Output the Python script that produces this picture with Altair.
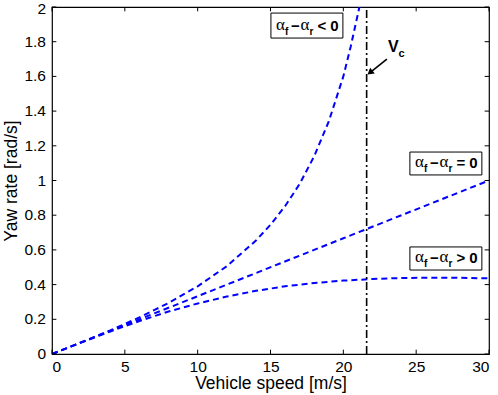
import altair as alt
import pandas as pd

# ---- data ----
speed_over = [0, 2, 4, 6, 8, 10, 12, 14, 15, 16, 17, 18, 19, 20, 20.5, 21, 21.1]
yaw_over = [0, 0.067, 0.136, 0.211, 0.294, 0.39, 0.506, 0.654, 0.745, 0.852, 0.98, 1.14, 1.34, 1.6, 1.77, 1.96, 2.0]

speed_neutral = [0, 10, 20, 30]
yaw_neutral = [0, 0.333, 0.667, 1.0]

speed_under = [0, 2, 4, 6, 8, 10, 12, 14, 16, 18, 20, 22, 24, 26, 28, 30]
yaw_under = [0, 0.066, 0.13, 0.19, 0.245, 0.291, 0.331, 0.364, 0.39, 0.409, 0.423, 0.432, 0.438, 0.44, 0.439, 0.436]

critical_speed = 21.6

x_ticks = [0, 5, 10, 15, 20, 25, 30]
y_ticks = [0, 0.2, 0.4, 0.6, 0.8, 1.0, 1.2, 1.4, 1.6, 1.8, 2.0]
y_tick_labels = ["0", "0.2", "0.4", "0.6", "0.8", "1", "1.2", "1.4", "1.6", "1.8", "2"]

box_relations = ["< 0", "= 0", "> 0"]

FONT = "Liberation Sans"

rows = []
for name, xs, ys in [("over", speed_over, yaw_over),
                     ("neutral", speed_neutral, yaw_neutral),
                     ("under", speed_under, yaw_under)]:
    for i, (a, b) in enumerate(zip(xs, ys)):
        rows.append({"series": name, "order": i, "speed": a, "yaw": b})
df = pd.DataFrame(rows)

xscale = alt.Scale(domain=[0, 30], nice=False, zero=False)
yscale = alt.Scale(domain=[0, 2], nice=False, zero=False)

xaxis = alt.Axis(values=x_ticks, tickSize=0, domain=False, grid=False, labelOverlap=False,
                 labelFontSize=15.5, labelFont=FONT, labelColor="black", labelPadding=5,
                 title="Vehicle speed [m/s]", titleFont=FONT, titleFontSize=17.5,
                 titleFontWeight="normal", titleColor="black", titlePadding=0)
yaxis = alt.Axis(values=y_ticks, tickSize=0, domain=False, grid=False, labels=False,
                 title="Yaw rate [rad/s]", titleFont=FONT, titleFontSize=17.5,
                 titleFontWeight="normal", titleColor="black", titlePadding=31)

base = alt.Chart(df)

lines = base.mark_line(color="#0000ff", strokeWidth=2, strokeDash=[6, 4], clip=True).encode(
    x=alt.X("speed:Q", scale=xscale, axis=xaxis),
    y=alt.Y("yaw:Q", scale=yscale, axis=yaxis),
    detail="series:N",
    order="order:Q",
)

# inward ticks on all four sides
xt = pd.DataFrame({"v": x_ticks})
yt = pd.DataFrame({"v": y_ticks, "lab": y_tick_labels})
tick_len_y = 0.025
tick_len_x = 0.3
bottom_ticks = alt.Chart(xt).mark_rule(color="black", strokeWidth=1).encode(
    x=alt.X("v:Q", scale=xscale, axis=xaxis), y=alt.datum(0, scale=yscale), y2=alt.datum(tick_len_y))
top_ticks = alt.Chart(xt).mark_rule(color="black", strokeWidth=1).encode(
    x=alt.X("v:Q", scale=xscale, axis=xaxis), y=alt.datum(2 - tick_len_y, scale=yscale), y2=alt.datum(2))
left_ticks = alt.Chart(yt).mark_rule(color="black", strokeWidth=1).encode(
    y=alt.Y("v:Q", scale=yscale, axis=yaxis), x=alt.datum(0, scale=xscale), x2=alt.datum(tick_len_x))
right_ticks = alt.Chart(yt).mark_rule(color="black", strokeWidth=1).encode(
    y=alt.Y("v:Q", scale=yscale, axis=yaxis), x=alt.datum(30 - tick_len_x, scale=xscale), x2=alt.datum(30))
y_labels = alt.Chart(yt[:-1]).mark_text(align="right", baseline="middle", dx=-6, fontSize=15.5,
                                        font=FONT, color="black").encode(
    y=alt.Y("v:Q", scale=yscale, axis=yaxis), x=alt.datum(0, scale=xscale), text="lab:N")
y_label_top = alt.Chart(yt[-1:]).mark_text(align="right", baseline="top", dx=-6, dy=-5,
                                           fontSize=15.5, font=FONT, color="black").encode(
    y=alt.Y("v:Q", scale=yscale, axis=yaxis), x=alt.datum(0, scale=xscale), text="lab:N")

vline = alt.Chart(pd.DataFrame({"v": [critical_speed]})).mark_rule(
    color="black", strokeWidth=1.6, strokeDash=[8, 3, 2, 3]).encode(
    x=alt.X("v:Q", scale=xscale, axis=xaxis), y=alt.datum(0, scale=yscale), y2=alt.datum(2))

# annotation boxes
boxes = pd.DataFrame({
    "x0": [15.03, 24.57, 24.57], "x1": [19.97, 29.51, 29.51],
    "y0": [1.821, 1.032, 0.484], "y1": [1.965, 1.164, 0.617],
    "rel": box_relations,
})
boxes["yc"] = (boxes["y0"] + boxes["y1"]) / 2
rects = alt.Chart(boxes).mark_rect(fill="white", stroke="black", strokeWidth=1).encode(
    x=alt.X("x0:Q", scale=xscale, axis=xaxis), x2="x1:Q",
    y=alt.Y("y0:Q", scale=yscale, axis=yaxis), y2="y1:Q")

def piece(text, dx, dy=0, size=14, weight="bold", font=FONT, field=None):
    m = alt.Chart(boxes).mark_text(align="left", baseline="middle", dx=dx, dy=dy,
                                   fontSize=size, fontWeight=weight, font=font, color="black",
                                   **({} if field else {"text": text}))
    enc = dict(x=alt.X("x0:Q", scale=xscale, axis=xaxis), y=alt.Y("yc:Q", scale=yscale, axis=yaxis))
    if field:
        enc["text"] = alt.Text(field + ":N")
    return m.encode(**enc)

labels = [
    piece("α", 5, -1, 17, "normal", "Liberation Serif"),
    piece("f", 14, 6, 10),
    piece("−", 20, 0, 15),
    piece("α", 29.5, -1, 17, "normal", "Liberation Serif"),
    piece("r", 38.5, 6, 10),
    piece(None, 46.5, 0, 15, field="rel"),
]

# V_c label and arrow
vc = pd.DataFrame({"x": [23.06], "y": [1.77]})
vc_text = alt.Chart(vc).mark_text(text="V", align="left", baseline="middle", fontSize=16,
                                  fontWeight="bold", font=FONT, color="black").encode(
    x=alt.X("x:Q", scale=xscale, axis=xaxis), y=alt.Y("y:Q", scale=yscale, axis=yaxis))
vc_sub = alt.Chart(vc).mark_text(text="c", align="left", baseline="middle", dx=10.5, dy=7,
                                 fontSize=11, fontWeight="bold", font=FONT, color="black").encode(
    x=alt.X("x:Q", scale=xscale, axis=xaxis), y=alt.Y("y:Q", scale=yscale, axis=yaxis))
arrow_df = pd.DataFrame({"x": [22.99, 21.83], "y": [1.70, 1.622], "o": [0, 1]})
arrow_line = alt.Chart(arrow_df).mark_line(color="black", strokeWidth=1.6).encode(
    x=alt.X("x:Q", scale=xscale, axis=xaxis), y=alt.Y("y:Q", scale=yscale, axis=yaxis), order="o:Q")
arrow_head = alt.Chart(pd.DataFrame({"x": [21.83], "y": [1.622]})).mark_point(
    shape="triangle-up", size=55, filled=True, color="black", opacity=1, angle=231).encode(
    x=alt.X("x:Q", scale=xscale, axis=xaxis), y=alt.Y("y:Q", scale=yscale, axis=yaxis))

chart = alt.layer(
    lines, vline, bottom_ticks, top_ticks, left_ticks, right_ticks, y_labels, y_label_top,
    rects, *labels, vc_text, vc_sub, arrow_line, arrow_head,
).properties(
    width=437, height=347,
    autosize=alt.AutoSizeParams(type="none"),
    padding={"left": 52, "top": 7, "right": 9, "bottom": 41},
    background="white",
).configure_view(stroke="black", strokeWidth=1.2
).configure_axis(labelOverlap=False)

chart.save("out.html", embed_options={"renderer": "svg", "actions": False})
